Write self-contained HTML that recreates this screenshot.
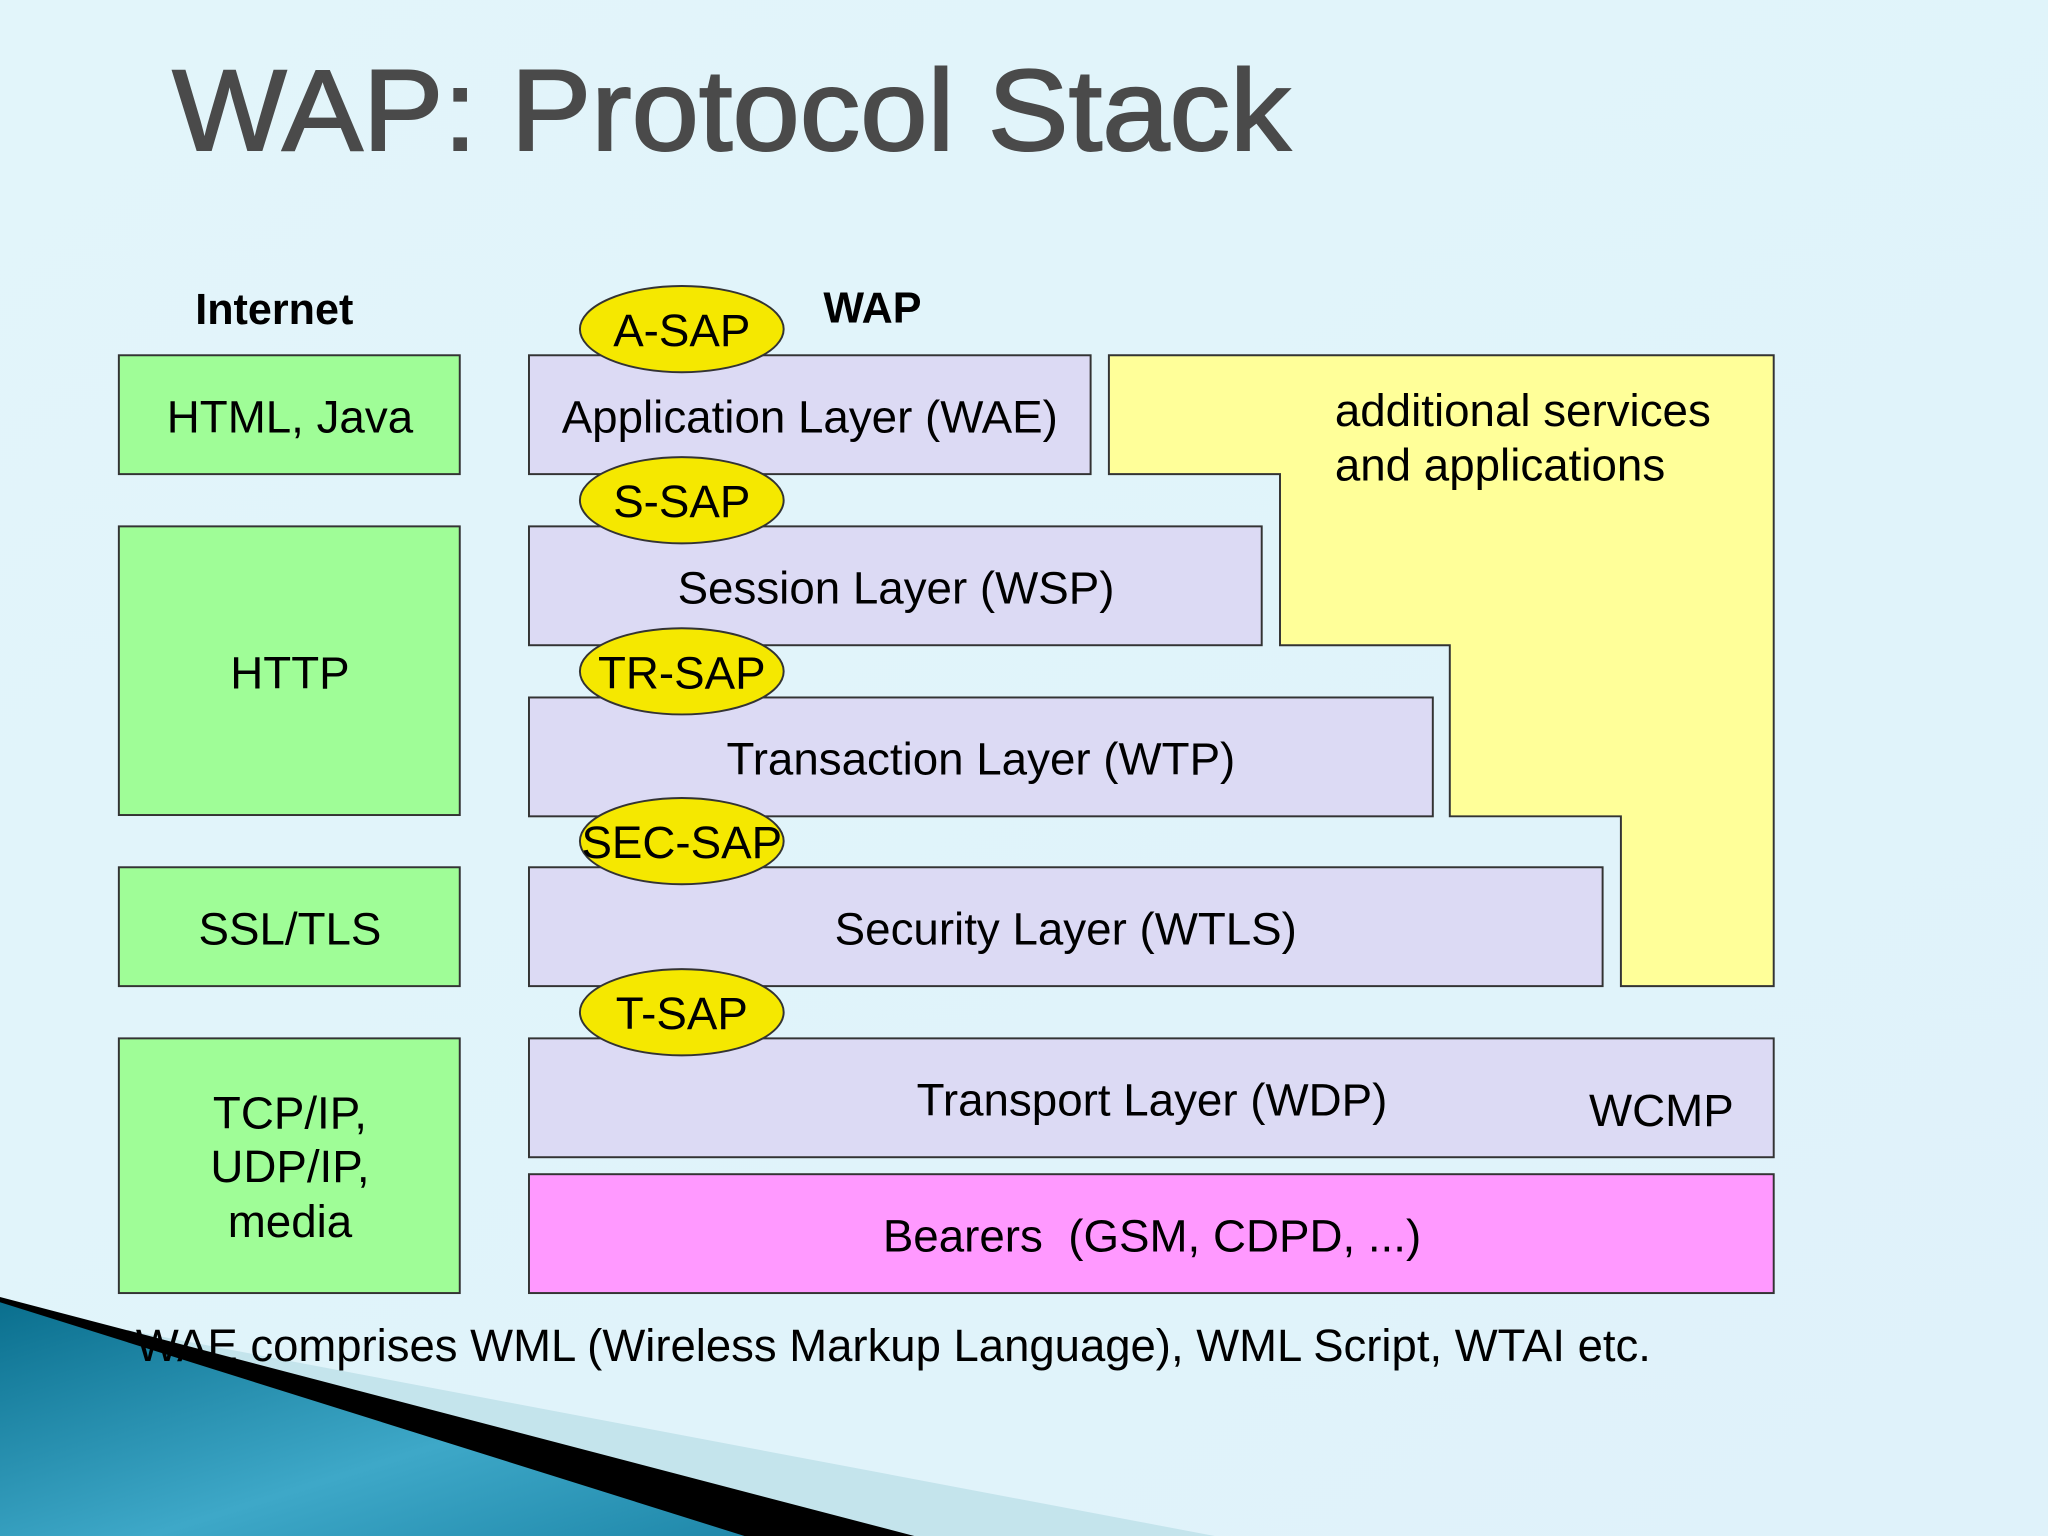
<!DOCTYPE html>
<html><head><meta charset="utf-8"><style>
html,body{margin:0;padding:0;}
svg{display:block;}
text{font-family:"Liberation Sans",Arial,sans-serif;}
</style></head><body>
<svg width="2048" height="1536" viewBox="0 0 1568 1176" xmlns="http://www.w3.org/2000/svg">
<defs>
<linearGradient id="bg" x1="0" y1="0" x2="1" y2="1"><stop offset="0" stop-color="#e2f5fa"/><stop offset="1" stop-color="#dff2fa"/></linearGradient>
<linearGradient id="sw" x1="0" y1="0" x2="1" y2="1"><stop offset="0" stop-color="#0a6f8e"/><stop offset="0.6" stop-color="#3ea8c8"/><stop offset="1" stop-color="#1f88aa"/></linearGradient>
</defs>
<rect width="1568" height="1176" fill="url(#bg)"/>
<polygon points="0,1000 930,1176 0,1176" fill="#c4e4ec"/>
<polygon points="0,993 700,1176 0,1176" fill="#000"/>
<polygon points="0,997 570,1176 0,1176" fill="url(#sw)"/>
<text x="132" y="115" font-size="88" fill="#4a4a4a" textLength="856" lengthAdjust="spacingAndGlyphs" stroke="#4a4a4a" stroke-width="1.5">WAP: Protocol Stack</text>
<g stroke="#333" stroke-width="1.5">
<rect x="91" y="272" width="261" height="91" fill="#9ffd97"/>
<rect x="91" y="403" width="261" height="221" fill="#9ffd97"/>
<rect x="91" y="664" width="261" height="91" fill="#9ffd97"/>
<rect x="91" y="795" width="261" height="195" fill="#9ffd97"/>
<polygon points="849,272 1358,272 1358,755 1241,755 1241,625 1110,625 1110,494 980,494 980,363 849,363" fill="#ffff99"/>
<rect x="405" y="272" width="430" height="91" fill="#dcdaf4"/>
<rect x="405" y="403" width="561" height="91" fill="#dcdaf4"/>
<rect x="405" y="534" width="692" height="91" fill="#dcdaf4"/>
<rect x="405" y="664" width="822" height="91" fill="#dcdaf4"/>
<rect x="405" y="795" width="953" height="91" fill="#dcdaf4"/>
<rect x="405" y="899" width="953" height="91" fill="#ff99ff"/>
<ellipse cx="522" cy="252" rx="78" ry="33" fill="#f5e800"/>
<ellipse cx="522" cy="383" rx="78" ry="33" fill="#f5e800"/>
<ellipse cx="522" cy="514" rx="78" ry="33" fill="#f5e800"/>
<ellipse cx="522" cy="644" rx="78" ry="33" fill="#f5e800"/>
<ellipse cx="522" cy="775" rx="78" ry="33" fill="#f5e800"/>
</g>
<g font-size="35" fill="#000" text-anchor="middle">
<text x="210" y="248" font-weight="bold" font-size="33">Internet</text>
<text x="668" y="247" font-weight="bold" font-size="33">WAP</text>
<text x="222" y="331">HTML, Java</text>
<text x="222" y="527">HTTP</text>
<text x="222" y="723">SSL/TLS</text>
<text x="222" y="864">TCP/IP,</text>
<text x="222" y="905">UDP/IP,</text>
<text x="222" y="947">media</text>
<text x="620" y="331">Application Layer (WAE)</text>
<text x="686" y="462">Session Layer (WSP)</text>
<text x="751" y="593">Transaction Layer (WTP)</text>
<text x="816" y="723">Security Layer (WTLS)</text>
<text x="882" y="854">Transport Layer (WDP)</text>
<text x="1272" y="862">WCMP</text>
<text x="882" y="958">Bearers &#160;(GSM, CDPD, ...)</text>
<text x="522" y="265">A-SAP</text>
<text x="522" y="396">S-SAP</text>
<text x="522" y="527">TR-SAP</text>
<text x="522" y="657">SEC-SAP</text>
<text x="522" y="788">T-SAP</text>
</g>
<g font-size="35" fill="#000">
<text x="1022" y="326">additional services</text>
<text x="1022" y="368">and applications</text>
<text x="104" y="1042" textLength="1160" lengthAdjust="spacingAndGlyphs">WAE comprises WML (Wireless Markup Language), WML Script, WTAI etc.</text>
</g>
</svg>
</body></html>
